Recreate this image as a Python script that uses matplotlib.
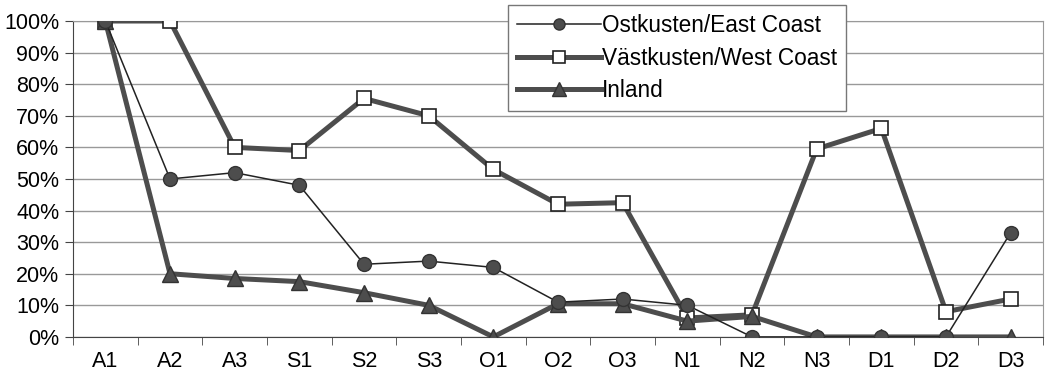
import numpy as np
import matplotlib.pyplot as plt
from matplotlib.ticker import PercentFormatter, MultipleLocator

plt.rcParams['font.family'] = ['Liberation Sans', 'DejaVu Sans']

months = ["A1", "A2", "A3", "S1", "S2", "S3", "O1", "O2", "O3",
          "N1", "N2", "N3", "D1", "D2", "D3"]
east = [100, 50, 52, 48, 23, 24, 22, 11, 12, 10, 0, 0, 0, 0, 33]
west = [100, 100, 60, 59, 75.5, 70, 53, 42, 42.5, 6, 7, 59.5, 66, 8, 12]
inland = [100, 20, 18.5, 17.5, 14, 10, 0, 10.5, 10.5, 5, 6.5, 0, 0, 0, 0]

x = np.arange(len(months))
line_col = "#4d4d4d"

fig = plt.figure(figsize=(10.63, 3.82), dpi=100)
ax = fig.add_axes([0.0687, 0.118, 0.9125, 0.827])

ax.plot(x, west, color=line_col, lw=3.6, marker="s", ms=10,
        mfc="white", mec="#222222", mew=1.2, label="Västkusten/West Coast", zorder=3)
ax.plot(x, inland, color=line_col, lw=3.6, marker="^", ms=12,
        mfc=line_col, mec="#333333", label="Inland", zorder=4)
ax.plot(x, east, color="#222222", lw=1.1, marker="o", ms=10,
        mfc=line_col, mec="#333333", label="Ostkusten/East Coast", zorder=5)

ax.set_xlim(-0.5, len(months) - 0.5)
ax.set_ylim(0, 100)
ax.yaxis.set_major_locator(MultipleLocator(10))
ax.yaxis.set_major_formatter(PercentFormatter(decimals=0))
ax.set_xticks(x)
ax.set_xticklabels(months)
ax.set_xticks(np.arange(-0.5, len(months)), minor=True)
ax.tick_params(axis="x", which="major", length=0, pad=10, labelsize=15.5)
ax.tick_params(axis="x", which="minor", length=6, color="#444444")
ax.tick_params(axis="y", length=6, color="#444444", labelsize=15.5, pad=4)

ax.grid(axis="y", color="#999999", lw=1)
ax.set_axisbelow(True)
for side in ["top", "right"]:
    ax.spines[side].set_color("#999999")
for side in ["left", "bottom"]:
    ax.spines[side].set_color("#444444")

# legend sits partly above the plot area, East Coast first
handles, labels = ax.get_legend_handles_labels()
order = [2, 0, 1]
leg = fig.legend([handles[i] for i in order], [labels[i] for i in order],
                 loc="upper left", bbox_to_anchor=(508 / 1063, 1 - 5 / 382),
                 fontsize=16.3, handlelength=3.7, handletextpad=0.05,
                 labelspacing=0.42, borderpad=0.4, borderaxespad=0,
                 markerscale=0.8, fancybox=False, edgecolor="#777777",
                 framealpha=1)
leg.get_frame().set_linewidth(1)

fig.savefig("out.png", dpi=100)
